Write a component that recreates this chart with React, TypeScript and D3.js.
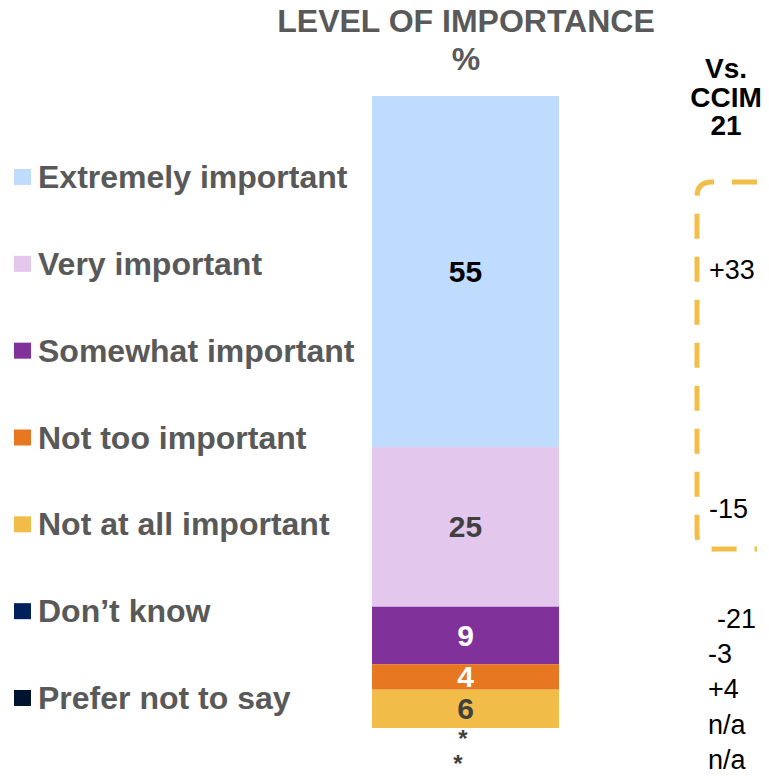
import React from "react";
import * as d3 from "d3";

const categories = [
  "Extremely important",
  "Very important",
  "Somewhat important",
  "Not too important",
  "Not at all important",
  "Don\u2019t know",
  "Prefer not to say",
];
const values = [55, 25, 9, 4, 6, 0, 0];
const valueLabels = ["55", "25", "9", "4", "6", "*", "*"];
const changes = ["+33", "-15", "-21", "-3", "+4", "n/a", "n/a"];
const colors = ["#BFDBFD", "#E3C7EC", "#80319A", "#E87722", "#F1BC48", "#00205B", "#001432"];
const labelColors = ["#000000", "#404040", "#ffffff", "#ffffff", "#404040", "#404040", "#404040"];

const FONT = "'Liberation Sans', Arial, Helvetica, sans-serif";

export default function App() {
  const W = 769;
  const H = 778;
  const total = d3.sum(values);
  const y = d3.scaleLinear().domain([0, total]).range([96, 728]);
  const x0 = 372;
  const x1 = 559;
  const cx = (x0 + x1) / 2;

  const stack = d3.cumsum(values);
  const segs = values.map((v, i) => ({
    v,
    i,
    y0: y(stack[i] - v),
    y1: y(stack[i]),
  }));

  const legendY = d3.scaleLinear().domain([0, categories.length - 1]).range([177, 698]);

  // right column positions
  const changeY = [279, 518, 628, 663, 698, 734, 769];
  const changeX = [709, 709, 717, 708, 708, 708, 708];

  // bracket
  const bx = 697, bt = 182, bb = 549, br = 757, rad = 15;
  const bracket = `M${br},${bt} L${bx + rad},${bt} Q${bx},${bt} ${bx},${bt + rad} L${bx},${bb - rad} Q${bx},${bb} ${bx + rad},${bb} L${br},${bb}`;

  return (
    <svg width={W} height={H} style={{ position: "absolute", left: 0, top: 0 }} fontFamily={FONT}>
      <text x={466} y={32} textAnchor="middle" fontSize={32} fontWeight="bold" fill="#595959">
        LEVEL OF IMPORTANCE
      </text>
      <text x={466} y={70} textAnchor="middle" fontSize={32} fontWeight="bold" fill="#595959">
        %
      </text>

      {["Vs.", "CCIM", "21"].map((t, i) => (
        <text key={t} x={726} y={78 + i * 28.5} textAnchor="middle" fontSize={28} fontWeight="bold" fill="#000">
          {t}
        </text>
      ))}

      {segs.map((s) =>
        s.v > 0 ? (
          <rect key={s.i} x={x0} y={s.y0} width={x1 - x0} height={s.y1 - s.y0} fill={colors[s.i]} />
        ) : null
      )}
      {segs.map((s) => {
        if (s.v > 0) {
          return (
            <text
              key={"l" + s.i}
              x={cx}
              y={(s.y0 + s.y1) / 2 + 10.5}
              textAnchor="middle"
              fontSize={30}
              fontWeight="bold"
              fill={labelColors[s.i]}
            >
              {valueLabels[s.i]}
            </text>
          );
        }
        const k = s.i - 5;
        return (
          <text
            key={"l" + s.i}
            x={k === 0 ? 463 : 458}
            y={y(total) + 19 + k * 25}
            textAnchor="middle"
            fontSize={24}
            fontWeight="bold"
            fill={labelColors[s.i]}
          >
            {valueLabels[s.i]}
          </text>
        );
      })}

      {categories.map((c, i) => (
        <g key={c} transform={`translate(0,${legendY(i)})`}>
          <rect x={14} y={-8} width={17} height={16} fill={colors[i]} />
          <text x={38} y={11} fontSize={32} fontWeight="bold" fill="#595959">
            {c}
          </text>
        </g>
      ))}

      <path d={bracket} fill="none" stroke="#F1BE4A" strokeWidth={5} strokeDasharray="25 18" />

      {changes.map((c, i) => (
        <text key={"c" + i} x={changeX[i]} y={changeY[i]} fontSize={27} fill="#000">
          {c}
        </text>
      ))}
    </svg>
  );
}
